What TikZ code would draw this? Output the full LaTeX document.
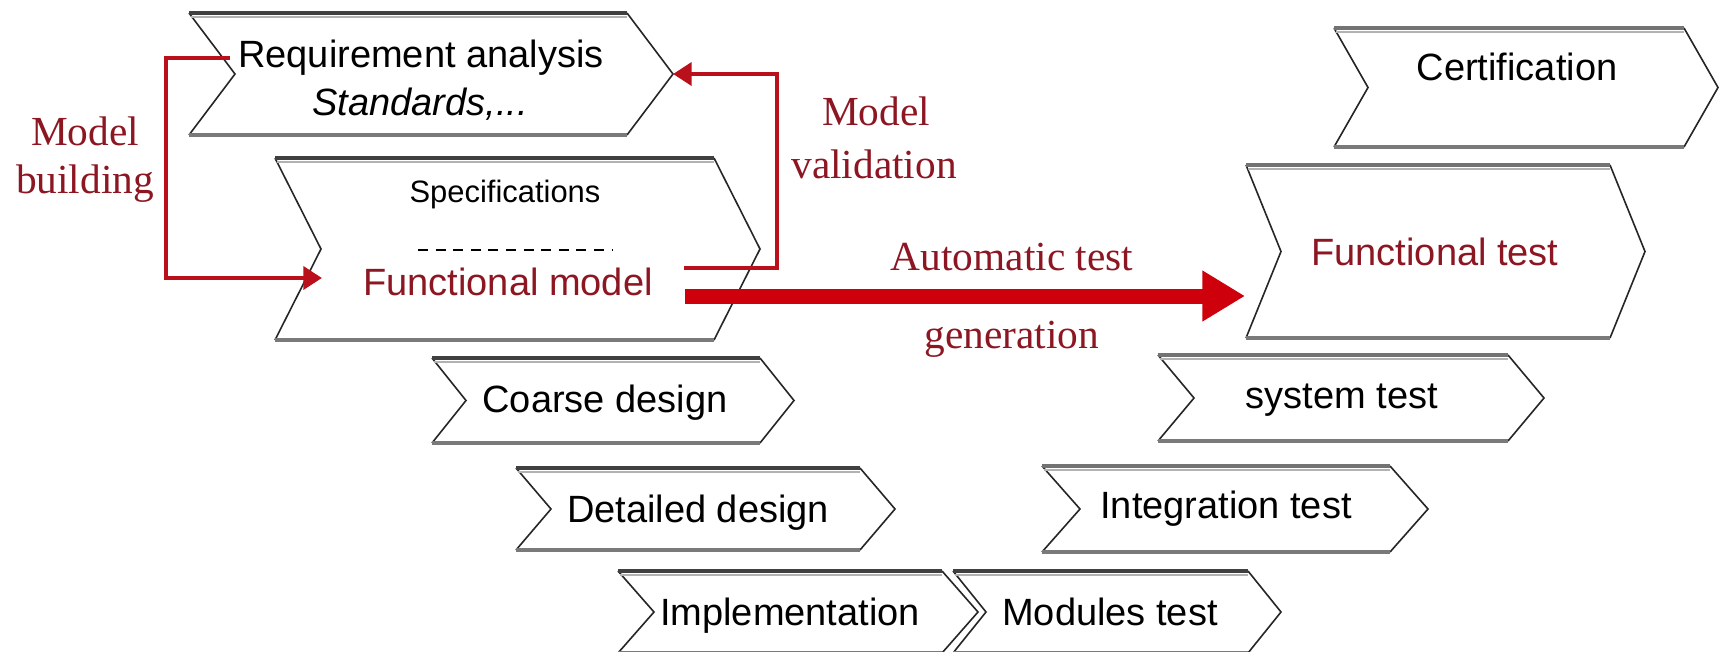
\documentclass[tikz,border=0pt]{standalone}
\usepackage{fontspec}
\setmainfont{Liberation Serif}
\setsansfont{Liberation Sans}
\usetikzlibrary{arrows.meta,calc}

\definecolor{txtred}{RGB}{140,22,34}
\definecolor{linered}{RGB}{185,16,28}
\definecolor{arrowred}{RGB}{205,0,12}

\tikzset{
  chevbox/.style={rectangle, inner sep=0pt, outer sep=0pt, draw=none},
  chevside/.style={draw=black!85, line width=1.2pt, line join=miter},
  topdark/.style={draw=black!75, line width=2.8pt},
  topgray/.style={draw=black!55, line width=3.6pt},
  chevshade/.style={draw=black!30, line width=1.5pt},
  chevbot/.style={draw=black!52, line width=3.4pt},
  lbl/.style={font=\sffamily\fontsize{28.5}{34}\selectfont, inner sep=0pt, anchor=base},
  redlbl/.style={lbl, text=txtred},
  smalllbl/.style={font=\sffamily\fontsize{23.2}{28}\selectfont, inner sep=0pt, anchor=base},
  seriflbl/.style={font=\rmfamily\fontsize{31}{36}\selectfont, text=txtred, inner sep=0pt, anchor=base},
  redline/.style={draw=linered, line width=3.6pt, line join=miter,
    -{Triangle[length=14pt,width=17pt]}},
  bigarrow/.style={draw=arrowred, line width=11.25pt,
    -{Triangle[length=32pt,width=36pt]}},
}

% chevron: name, left x, right base x, top y, bottom y, point depth, top edge style
\newcommand\mkchev[7]{%
  \node[chevbox, minimum width={(#3+#6-(#2))*0.75pt}, minimum height={(#5-(#4))*0.75pt}]
    (#1) at ({(#2+#3+#6)/2},{(#4+#5)/2}) {};
  \draw[chevside] ($(#1.north east)+(-#6,0)$) -- (#1.east) -- ($(#1.south east)+(-#6,0)$);
  \draw[chevside] (#1.north west) -- ($(#1.west)+(#6,0)$) -- (#1.south west);
  \draw[chevshade] ($(#1.north west)+(2,3.5)$) -- ($(#1.north east)+(-#6,3.5)$);
  \draw[#7] (#1.north west) -- ($(#1.north east)+(-#6,0)$);
  \draw[chevbot] (#1.south west) -- ($(#1.south east)+(-#6,0)$);
}

\begin{document}
\begin{tikzpicture}[x=0.75pt, y=-0.75pt]
\useasboundingbox (0,0) rectangle (1725,651);
\clip (0,0) rectangle (1725,651);
\fill[white] (0,0) rectangle (1725,651);

% development phases (left branch)
\mkchev{req}{189}{627}{13}{135}{46}{topdark}
\mkchev{spec}{275}{714}{158}{340}{46}{topdark}
\mkchev{coarse}{432}{760}{358}{443}{34}{topdark}
\mkchev{detail}{516}{860}{468}{550}{35}{topdark}
\mkchev{impl}{618}{942}{571}{653}{36}{topdark}
% test phases (right branch)
\mkchev{modules}{953}{1248}{571}{653}{33}{topdark}
\mkchev{integ}{1042}{1390}{466}{552}{38}{topgray}
\mkchev{systest}{1158}{1508}{355}{441}{36}{topgray}
\mkchev{ftest}{1246}{1610}{165}{338}{35}{topgray}
\mkchev{cert}{1334}{1684}{28}{147}{34}{topgray}

% phase labels
\node[lbl] (req-t1) at (421,67) {Requirement analysis};
\node[lbl] (req-t2) at (420,115) {\itshape Standards,...};
\node[smalllbl] (spec-t) at (505,202) {Specifications};
\draw[black, line width=1.1pt, dash pattern=on 7.5pt off 5.7pt] (418,250) coordinate (sep-a) -- (612,250) coordinate (sep-b);
\node[redlbl] (fmodel) at (508,295) {Functional model};
\node[lbl] (coarse-t) at (605,412) {Coarse design};
\node[lbl] (detail-t) at (698,522) {Detailed design};
\node[lbl] (impl-t) at (790,625) {Implementation};
\node[lbl] (modules-t) at (1110,625) {Modules test};
\node[lbl] (integ-t) at (1226,518) {Integration test};
\node[lbl] (systest-t) at (1342,408) {system test};
\node[redlbl] (ftest-t) at (1435,265) {Functional test};
\node[lbl] (cert-t) at (1517,80) {Certification};

% model building loop
\draw[redline] ($(req.west)+(41,-16)$) -- ++(-64,0) |- ($(spec.west)+(47,29)$);
\node[seriflbl] (mb1) at (85,145) {Model};
\node[seriflbl] (mb2) at (85,193) {building};

% model validation loop
\draw[redline] ($(spec.east)+(-76,19)$) -- ++(93,0) |- (req.east);
\node[seriflbl] (mv1) at (876,125) {Model};
\node[seriflbl] (mv2) at (874,178) {validation};

% automatic test generation
\coordinate (gen-start) at ($(spec.east)+(-75,47)$);
\draw[bigarrow] (gen-start) -- ($(gen-start -| ftest.west)+(-1,0)$);
\node[seriflbl] (atg1) at (1012,270) {Automatic test};
\node[seriflbl] (atg2) at (1012,348) {generation};
\end{tikzpicture}
\end{document}
